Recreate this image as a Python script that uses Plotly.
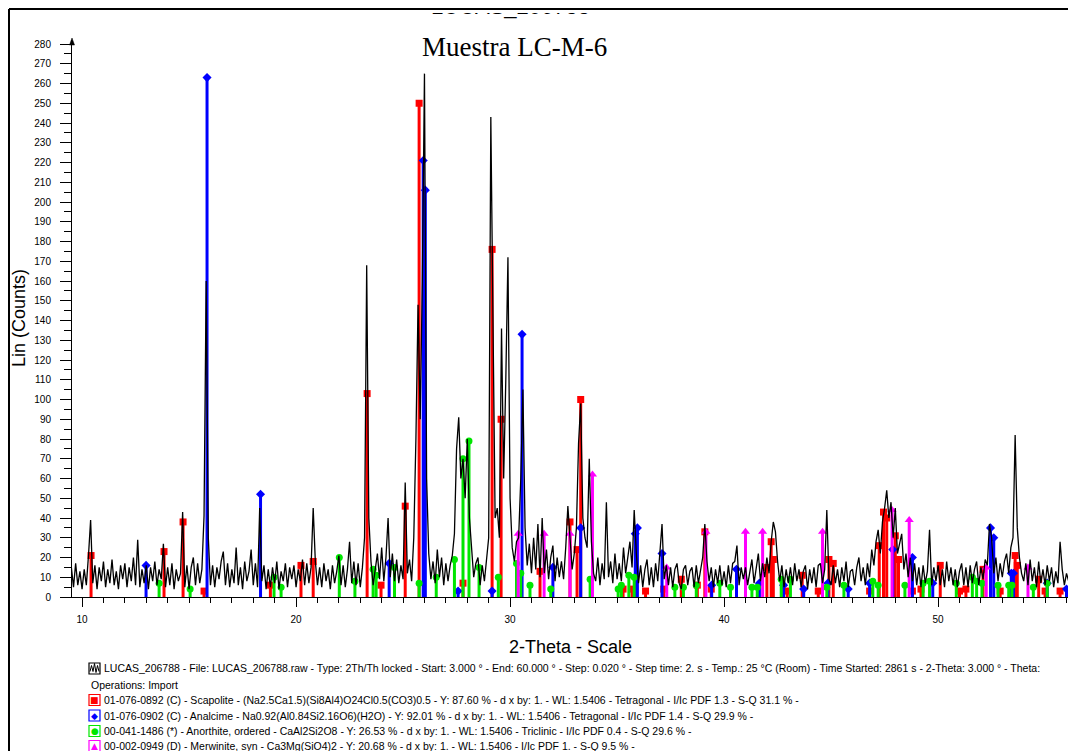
import plotly.graph_objects as go

# ---------------- data ----------------
theta_start = 9.5
theta_step = 0.1
counts = [
    15, 5, 17, 6, 13,                                   # 9.5-9.9
    4, 14, 6, 21, 39, 7, 16, 4, 15, 8,                  # 10
    18, 5, 14, 7, 19, 6, 13, 4, 16, 9,                  # 11
    17, 5, 15, 8, 20, 6, 29, 5, 14, 7,                  # 12
    16, 4, 15, 8, 18, 6, 14, 9, 27, 5,                  # 13
    15, 6, 17, 4, 14, 8, 12, 43, 5, 16,                 # 14
    4, 15, 20, 6, 17, 7, 14, 41, 160, 30,               # 15
    6, 16, 5, 15, 9, 18, 23, 6, 17, 5,                  # 16
    14, 7, 25, 6, 15, 4, 18, 8, 13, 24,                 # 17
    6, 17, 5, 45, 8, 16, 4, 14, 5, 15,                  # 18
    7, 18, 4, 13, 8, 17, 5, 15, 9, 16,                  # 19
    5, 14, 8, 19, 6, 17, 7, 15, 45, 18,                 # 20
    6, 15, 5, 17, 8, 14, 4, 16, 7, 13,                  # 21
    21, 6, 16, 5, 14, 28, 7, 18, 6, 17,                 # 22
    5, 15, 30, 168, 40, 18, 6, 14, 22, 9,               # 23
    25, 8, 20, 40, 10, 22, 8, 19, 7, 16,                # 24
    9, 58, 12, 19, 8, 30, 80, 148, 90, 160,             # 25
    265, 60, 22, 9, 18, 7, 24, 10, 20, 6,               # 26
    17, 8, 16, 21, 32, 75, 91, 60, 70, 50,              # 27
    80, 40, 25, 10, 17, 20, 6, 16, 8, 18,               # 28
    30, 243, 150, 40, 45, 30, 136, 60, 110, 172,        # 29
    50, 25, 18, 28, 30, 60, 105, 35, 16, 27,            # 30
    12, 30, 14, 37, 10, 40, 12, 24, 9, 20,              # 31
    26, 8, 20, 10, 18, 9, 25, 46, 30, 14,               # 32
    22, 35, 78, 98, 40, 30, 25, 70, 28, 12,             # 33
    8, 20, 6, 17, 9, 48, 10, 18, 7, 22,                 # 34
    9, 17, 8, 25, 12, 20, 28, 15, 44, 22,               # 35
    7, 16, 5, 14, 19, 6, 15, 5, 17, 8,                  # 36
    25, 37, 9, 16, 6, 15, 5, 14, 17, 7,                 # 37
    4, 14, 16, 6, 13, 15, 5, 16, 7, 14,                 # 38
    20, 37, 18, 8, 15, 5, 14, 7, 16, 6,                 # 39
    13, 5, 16, 7, 17, 18, 26, 6, 15, 9,                 # 40
    15, 6, 13, 19, 7, 14, 22, 8, 17, 10,                # 41
    20, 12, 28, 38, 33, 18, 8, 16, 5, 14,               # 42
    7, 15, 6, 17, 8, 14, 5, 13, 16, 4,                  # 43
    14, 7, 15, 5, 16, 17, 7, 14, 44, 9,                 # 44
    6, 16, 7, 14, 5, 15, 8, 18, 5, 13,                  # 45
    14, 6, 15, 20, 8, 15, 6, 17, 10, 24,                # 46
    16, 28, 34, 22, 38, 45, 54, 40, 48, 30,             # 47
    45, 22, 28, 32, 14, 22, 10, 20, 8, 17,              # 48
    6, 15, 5, 16, 7, 13, 34, 6, 15, 8,                  # 49
    16, 6, 14, 5, 18, 8, 15, 6, 14, 5,                  # 50
    13, 17, 6, 15, 5, 16, 7, 14, 18, 6,                 # 51
    15, 9, 19, 16, 37, 30, 12, 20, 8, 17,               # 52
    10, 18, 22, 12, 25, 30, 82, 35, 20, 12,             # 53
    8, 17, 6, 19, 8, 15, 5, 18, 7, 14,                  # 54
    6, 16, 8, 15, 5, 13, 7, 28, 14, 6,                  # 55
    12, 8,                                              # 56.0-56.1
]
two_theta = [round(theta_start + i * theta_step, 2) for i in range(len(counts))]

scapolite_pos = [10.42, 13.83, 14.72, 15.70, 18.80, 20.23, 20.80, 23.32, 23.97, 25.10, 25.75,
                 27.80, 29.16, 29.58, 31.40, 32.80, 33.13, 33.30, 35.28, 35.70, 36.33, 37.18,
                 38.00, 38.75, 39.10, 39.40, 42.00, 42.20, 42.30, 42.95, 43.65, 44.40, 44.90,
                 45.10, 46.80, 47.25, 47.45, 47.60, 48.00, 48.15, 48.80, 49.20, 50.10, 51.00,
                 51.30, 52.10, 52.90, 53.60, 53.70, 54.70, 55.00, 55.70]
scapolite_int = [21, 23, 38, 3, 6, 16, 18, 103, 6, 46, 250,
                 7, 176, 90, 13, 38, 24, 100, 4, 4, 3, 4,
                 9, 6, 33, 4, 15, 28, 19, 3, 11, 3, 19,
                 17, 3, 26, 43, 40, 31, 19, 3, 4, 16, 3,
                 4, 14, 3, 21, 16, 9, 3, 3]

analcime_pos = [12.99, 15.84, 18.34, 24.35, 25.94, 26.04, 27.57, 29.16, 30.56, 32.00, 33.30,
                35.85, 35.95, 37.10, 39.42, 40.58, 41.65, 42.78, 43.72, 44.85, 45.80, 46.80,
                47.88, 48.80, 49.75, 52.45, 52.60, 53.42, 53.52, 55.10, 56.00]
analcime_int = [16, 263, 52, 17, 221, 206, 3, 3, 133, 15, 35,
                32, 35, 22, 6, 14, 7, 6, 4, 7, 4, 7,
                24, 20, 7, 35, 30, 12, 12, 7, 4]

anorthite_pos = [13.60, 15.05, 18.97, 19.30, 22.02, 22.75, 23.60, 23.74, 24.60, 25.75, 26.55,
                 27.40, 27.80, 28.08, 28.55, 29.45, 30.30, 30.50, 30.93, 31.90, 33.74, 35.05,
                 35.20, 35.55, 35.80, 37.70, 38.10, 38.70, 39.80, 40.30, 41.30, 41.55, 42.67,
                 43.10, 44.80, 45.60, 46.95, 47.20, 48.45, 49.30, 49.60, 50.85, 51.60, 51.80,
                 52.05, 52.80, 53.30, 53.45, 54.45, 55.10]
anorthite_int = [7, 4, 10, 5, 20, 8, 14, 11, 15, 7, 10,
                 19, 70, 79, 15, 10, 17, 12, 6, 4, 9, 4,
                 6, 11, 10, 5, 5, 6, 7, 5, 5, 5, 9,
                 9, 5, 6, 8, 6, 6, 7, 8, 7, 10, 8,
                 7, 6, 6, 6, 5, 7]

merwinite_pos = [30.38, 31.59, 32.80, 33.85, 37.32, 39.15, 41.00, 41.80, 44.60, 47.85, 48.65, 52.25, 54.20]
merwinite_int = [32, 32, 32, 62, 15, 33, 33, 33, 33, 44, 39, 15, 15]

y_ticks = list(range(0, 281, 10))
x_ticks = [10, 20, 30, 40, 50]

legend_lines = [
    "LUCAS_206788 - File: LUCAS_206788.raw - Type: 2Th/Th locked - Start: 3.000 ° - End: 60.000 ° - Step: 0.020 ° - Step time: 2. s - Temp.: 25 °C (Room) - Time Started: 2861 s - 2-Theta: 3.000 ° - Theta:",
    "Operations: Import",
    "01-076-0892 (C) - Scapolite - (Na2.5Ca1.5)(Si8Al4)O24Cl0.5(CO3)0.5 - Y: 87.60 % - d x by: 1. - WL: 1.5406 - Tetragonal - I/Ic PDF 1.3 - S-Q 31.1 % -",
    "01-076-0902 (C) - Analcime - Na0.92(Al0.84Si2.16O6)(H2O) - Y: 92.01 % - d x by: 1. - WL: 1.5406 - Tetragonal - I/Ic PDF 1.4 - S-Q 29.9 % -",
    "00-041-1486 (*) - Anorthite, ordered - CaAl2Si2O8 - Y: 26.53 % - d x by: 1. - WL: 1.5406 - Triclinic - I/Ic PDF 0.4 - S-Q 29.6 % -",
    "00-002-0949 (D) - Merwinite, syn - Ca3Mg(SiO4)2 - Y: 20.68 % - d x by: 1. - WL: 1.5406 - I/Ic PDF 1. - S-Q 9.5 % -",
]

# ---------------- layout geometry ----------------
W, Hh = 1068, 751
L, R, T, B = 72, 1068, 40, 597


def px(x):
    return (x - L) / (R - L)


def py(y):
    return (B - y) / (B - T)


FONT = "Liberation Sans, Arial, sans-serif"

fig = go.Figure()

phases = [
    (scapolite_pos, scapolite_int, "#ff0000", "square", 7),
    (analcime_pos, analcime_int, "#0000ff", "diamond", 7),
    (anorthite_pos, anorthite_int, "#00e600", "circle", 7),
    (merwinite_pos, merwinite_int, "#ff00ff", "triangle-up", 8),
]
for pos, inten, col, sym, msize in phases:
    xs, ys = [], []
    for p, h in zip(pos, inten):
        xs += [p, p, None]
        ys += [0, h, None]
    fig.add_trace(go.Scatter(x=xs, y=ys, mode="lines", line=dict(color=col, width=3),
                             hoverinfo="skip", showlegend=False))
    fig.add_trace(go.Scatter(x=pos, y=inten, mode="markers",
                             marker=dict(color=col, symbol=sym, size=msize, line=dict(width=0)),
                             showlegend=False))

fig.add_trace(go.Scatter(x=two_theta, y=counts, mode="lines",
                         line=dict(color="black", width=1.3), showlegend=False))

fig.update_xaxes(range=[9.53, 56.07], tickvals=x_ticks, ticktext=[str(v) for v in x_ticks],
                 ticks="outside", ticklen=9, tickwidth=1, tickcolor="black",
                 minor=dict(dtick=1, tick0=0, ticklen=5, ticks="outside", tickcolor="black", tickwidth=1),
                 showline=True, linecolor="black", linewidth=1, showgrid=False, zeroline=False,
                 tickfont=dict(family=FONT, size=10, color="black"), ticklabelstandoff=4)
fig.update_yaxes(range=[0, (B - T) / 1.975], tickvals=y_ticks, ticktext=[str(v) for v in y_ticks],
                 ticks="outside", ticklen=11, tickwidth=1, tickcolor="black",
                 minor=dict(dtick=5, tick0=0, ticklen=7, ticks="outside", tickcolor="black", tickwidth=1),
                 showline=True, linecolor="black", linewidth=1, showgrid=False, zeroline=False,
                 tickfont=dict(family=FONT, size=10, color="black"), ticklabelstandoff=7)

annotations = []
# axis titles
annotations.append(dict(text="2-Theta - Scale", x=px(570), y=py(647), xref="paper", yref="paper",
                        showarrow=False, xanchor="center", yanchor="middle",
                        font=dict(family=FONT, size=18, color="black")))
annotations.append(dict(text="Lin (Counts)", x=px(19), y=py(318), xref="paper", yref="paper",
                        showarrow=False, xanchor="center", yanchor="middle", textangle=-90,
                        font=dict(family=FONT, size=18, color="black")))
# titles
annotations.append(dict(text="Muestra LC-M-6", x=px(514), y=py(47), xref="paper", yref="paper",
                        showarrow=False, xanchor="center", yanchor="middle",
                        font=dict(family="Liberation Serif, Times New Roman, serif", size=27, color="black")))
annotations.append(dict(text="LUCAS_206788", x=px(510), y=py(21), xref="paper", yref="paper",
                        showarrow=False, xanchor="center", yanchor="bottom",
                        font=dict(family=FONT, size=22, color="black")))
# cover the clipped upper part of the sample name, then redraw frame line
annotations.append(dict(text=" ", x=px(510), y=py(0), xref="paper", yref="paper", showarrow=False,
                        xanchor="center", yanchor="top", width=220, height=13, bgcolor="white",
                        borderpad=0, borderwidth=0, font=dict(size=1)))
annotations.append(dict(text=" ", x=px(510), y=py(8.5), xref="paper", yref="paper", showarrow=False,
                        xanchor="center", yanchor="top", width=220, height=2, bgcolor="black",
                        borderpad=0, borderwidth=0, font=dict(size=1)))

# legend text
line_y = [668.5, 684.5, 700, 715.5, 731, 746]
for i, (txt, yy) in enumerate(zip(legend_lines, line_y)):
    x0 = 89 if i == 1 else 102
    annotations.append(dict(text=txt, x=px(x0), y=py(yy), xref="paper", yref="paper",
                            showarrow=False, xanchor="left", yanchor="middle",
                            font=dict(family=FONT, size=10.5, color="black")))

shapes = []
# frame border
shapes.append(dict(type="line", xref="paper", yref="paper", x0=px(9), x1=px(1075), y0=py(9), y1=py(9),
                   line=dict(color="black", width=2)))
shapes.append(dict(type="line", xref="paper", yref="paper", x0=px(9), x1=px(9), y0=py(9), y1=py(760),
                   line=dict(color="black", width=2)))
# y axis arrow head
shapes.append(dict(type="path", xref="paper", yref="paper",
                   path=f"M {px(69.5)} {py(45)} L {px(72)} {py(38)} L {px(74.5)} {py(45)} Z",
                   fillcolor="black", line=dict(color="black", width=0.5)))
# legend icons
icon_cols = ["black", None, "#ff0000", "#0000ff", "#00e600", "#ff00ff"]
icon_syms = [None, None, "■", "◆", "●", "▲"]
for i, (col, sym, yy) in enumerate(zip(icon_cols, icon_syms, line_y)):
    if col is None:
        continue
    shapes.append(dict(type="rect", xref="paper", yref="paper", x0=px(89), x1=px(100),
                       y0=py(yy + 5.5), y1=py(yy - 5.5), line=dict(color=col, width=1.2),
                       fillcolor="white"))
    if sym:
        annotations.append(dict(text=sym, x=px(94.5), y=py(yy), xref="paper", yref="paper",
                                showarrow=False, xanchor="center", yanchor="middle",
                                font=dict(family="DejaVu Sans", size=9, color=col)))
# zigzag in first icon
zz = [(90, 671.5), (91.5, 665.5), (93, 671.5), (94.5, 663.5), (96, 672.5), (97.5, 665.5), (99, 671.5)]
path = "M " + " L ".join(f"{px(a)} {py(b)}" for a, b in zz)
shapes.append(dict(type="path", xref="paper", yref="paper", path=path,
                   line=dict(color="black", width=1)))

fig.update_layout(width=W, height=Hh, margin=dict(l=L, r=W - R, t=T, b=Hh - B, pad=0),
                  plot_bgcolor="white", paper_bgcolor="white", showlegend=False,
                  annotations=annotations, shapes=shapes)

fig.write_html("out.html", config={"displayModeBar": False},
               post_script="document.body.style.margin='0';")
